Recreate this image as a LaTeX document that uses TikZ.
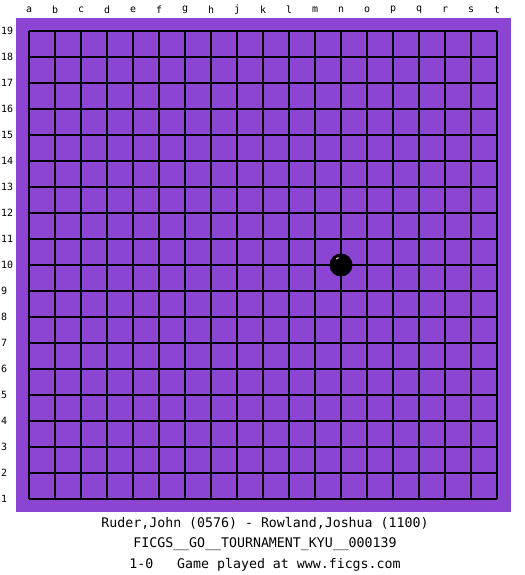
\documentclass[tikz,border=0pt]{standalone}
\usepackage{fontspec}
\setmonofont{DejaVu Sans Mono}
\definecolor{boardpurple}{RGB}{140,68,210}
\begin{document}
\begin{tikzpicture}[x=1bp,y=-1bp,
  gridline/.style={line width=1.5bp,black},
  collabel/.style={font=\ttfamily\fontsize{10}{12}\selectfont,anchor=center,inner sep=0},
  rowlabel/.style={font=\ttfamily\fontsize{10}{12}\selectfont,anchor=west,inner sep=0},
  infotext/.style={font=\ttfamily\fontsize{13.3}{15}\selectfont,anchor=center,inner sep=0}]
\useasboundingbox (0,0) rectangle (525,575);
\fill[white] (0,0) rectangle (525,575);
\fill[boardpurple] (16,18) rectangle (511,512);
\foreach \i in {0,...,18} {
  \draw[gridline] (29+26*\i,31) -- (29+26*\i,499);
  \draw[gridline] (29,31+26*\i) -- (497,31+26*\i);
}
\foreach \l [count=\i from 0] in {a,b,c,d,e,f,g,h,j,k,l,m,n,o,p,q,r,s,t} {
  \node[collabel] (col\l) at (29+26*\i,10) {\l};
}
\foreach \i in {1,...,19} {
  \node[rowlabel] (row\i) at (1,31+26*19-26*\i) {\i};
}
\fill[black] (341,265) circle (11.5);
\draw[white,line width=0.8bp] (336,259) arc (230:260:6);
\node[infotext] (players) at (265,523) {Ruder,John (0576) - Rowland,Joshua (1100)};
\node[infotext] (event) at (265,544) {FICGS\_\_GO\_\_TOURNAMENT\_KYU\_\_000139};
\node[infotext] (result) at (265,565) {1-0\ \ \ Game played at www.ficgs.com};
\end{tikzpicture}
\end{document}
